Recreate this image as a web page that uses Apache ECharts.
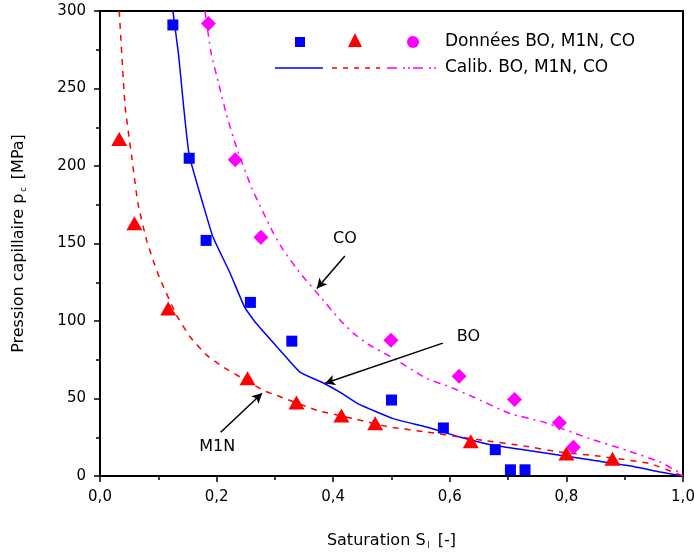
<!DOCTYPE html>
<html>
<head>
<meta charset="utf-8">
<script src="https://cdn.jsdelivr.net/npm/echarts@6/dist/echarts.min.js"></script>
<style>html,body{margin:0;padding:0;background:#fff;}#c{width:694px;height:556px;}</style>
</head>
<body>
<div id="c"></div>
<script>
// ---- Data ----
const xTicks = [0, 0.2, 0.4, 0.6, 0.8, 1.0];
const yTicks = [0, 50, 100, 150, 200, 250, 300];

// Measured points
const boX  = [0.125, 0.153, 0.182, 0.258, 0.329, 0.500, 0.589, 0.678, 0.704, 0.729];
const boY  = [291, 205, 152, 112, 87, 49, 31, 17, 4, 4];
const m1nX = [0.033, 0.059, 0.117, 0.253, 0.337, 0.414, 0.472, 0.636, 0.800, 0.879];
const m1nY = [217.5, 163, 108, 63, 47.5, 39, 34, 22.4, 14.5, 11.2];
const coX  = [0.186, 0.232, 0.276, 0.499, 0.616, 0.711, 0.788, 0.812];
const coY  = [292, 204, 154, 87.6, 64.4, 49.3, 34.3, 18.5];

// Calibrated curves
const boFitX  = [0.125, 0.135, 0.143, 0.153, 0.177, 0.194, 0.223, 0.248, 0.269, 0.309, 0.343, 0.383, 0.412, 0.443, 0.503, 0.560, 0.617, 0.675, 0.732, 0.789, 0.846, 0.903, 0.961, 1.0];
const boFitY  = [300, 271, 240, 207, 175, 154, 131, 109, 98, 81, 67, 60, 54, 46.5, 37, 31.6, 25.2, 19.8, 16.6, 13.4, 10.1, 6.9, 2.6, 0];
const m1nFitX = [0.033, 0.043, 0.054, 0.065, 0.080, 0.094, 0.103, 0.131, 0.154, 0.183, 0.211, 0.280, 0.303, 0.372, 0.435, 0.497, 0.560, 0.657, 0.720, 0.789, 0.858, 0.943, 0.990, 1.0];
const m1nFitY = [300, 239, 207, 176, 152, 136, 127, 104, 90, 78, 70.4, 55.3, 52, 42.4, 37, 31.6, 28.4, 23, 19.8, 15.5, 12.7, 8.0, 1.5, 0];
const coFitX  = [0.180, 0.191, 0.203, 0.217, 0.235, 0.260, 0.280, 0.297, 0.314, 0.343, 0.377, 0.412, 0.435, 0.460, 0.503, 0.560, 0.600, 0.640, 0.703, 0.760, 0.840, 0.903, 0.961, 0.995, 1.0];
const coFitY  = [300, 272, 254, 233, 211, 186, 170, 157, 146, 131, 116, 100.5, 92, 85, 76, 63, 57.5, 51, 40.3, 34.9, 24.1, 16.6, 9.0, 1.9, 0];

// Annotations (data coordinates)
const annoNames = ['CO', 'BO', 'M1N'];
const annoTextX = [0.420, 0.632, 0.201];
const annoTextY = [153, 89.5, 18.5];
const arrowFromX = [0.420, 0.588, 0.207];
const arrowFromY = [142, 85.7, 28.2];
const arrowToX   = [0.372, 0.386, 0.278];
const arrowToY   = [121, 59.8, 53.4];

const zip = (a, b) => a.map((v, i) => [v, b[i]]);
const FONT = 'DejaVu Sans';
const BLUE = '#0000ff', RED = '#ff0000', MAG = '#ff00ff';

const chart = echarts.init(document.getElementById('c'), null, {renderer: 'canvas'});
chart.setOption({
  backgroundColor: '#fff',
  animation: false,
  grid: {left: 100, top: 11, right: 11, bottom: 80, outerBoundsMode: 'none', containLabel: false,
    show: true, borderColor: '#000', borderWidth: 2, backgroundColor: '#fff'},
  xAxis: {
    type: 'value', min: xTicks[0], max: xTicks[xTicks.length - 1], interval: 0.2,
    axisLine: {onZero: false, lineStyle: {color: '#000', width: 2}},
    axisTick: {length: 6, lineStyle: {color: '#000', width: 1.5}},
    minorTick: {show: true, splitNumber: 2, length: 4, lineStyle: {color: '#000', width: 1.5}},
    splitLine: {show: false},
    axisLabel: {margin: 14, color: '#000', fontFamily: FONT, fontSize: 15, hideOverlap: false,
      formatter: v => v.toFixed(1).replace('.', ',')},
    name: 'Saturation S{sub|l} [-]', nameLocation: 'middle', nameGap: 56,
    nameTextStyle: {color: '#000', fontFamily: FONT, fontSize: 16,
      rich: {sub: {fontSize: 8, fontFamily: FONT, color: '#000', verticalAlign: 'bottom', padding: [10, 3, 0, 2]}}}
  },
  yAxis: {
    type: 'value', min: yTicks[0], max: yTicks[yTicks.length - 1], interval: 50,
    axisLine: {onZero: false, lineStyle: {color: '#000', width: 2}},
    axisTick: {length: 6, lineStyle: {color: '#000', width: 1.5}},
    minorTick: {show: true, splitNumber: 2, length: 4, lineStyle: {color: '#000', width: 1.5}},
    splitLine: {show: false},
    axisLabel: {margin: 14, color: '#000', fontFamily: FONT, fontSize: 15},
    name: 'Pression capillaire p{sub|c} [MPa]', nameLocation: 'middle', nameGap: 72,
    nameTextStyle: {color: '#000', fontFamily: FONT, fontSize: 16,
      rich: {sub: {fontSize: 8, fontFamily: FONT, color: '#000', verticalAlign: 'bottom', padding: [10, 3, 0, 2]}}}
  },
  series: [
    {type: 'line', data: zip(boFitX, boFitY), showSymbol: false, smooth: 0.15, lineStyle: {color: BLUE, width: 1.5}, z: 3},
    {type: 'line', data: zip(m1nFitX, m1nFitY), showSymbol: false, smooth: 0.15, lineStyle: {color: RED, width: 1.5, type: [6, 6]}, z: 3},
    {type: 'line', data: zip(coFitX, coFitY), showSymbol: false, smooth: 0.15, lineStyle: {color: MAG, width: 1.5, type: [7, 5, 2, 5]}, z: 3},
    {type: 'scatter', data: zip(boX, boY), symbol: 'rect', symbolSize: 11, itemStyle: {color: BLUE, opacity: 1}, z: 4},
    {type: 'scatter', data: zip(m1nX, m1nY), symbol: 'triangle', symbolSize: [16, 14], itemStyle: {color: RED, opacity: 1}, z: 4},
    {type: 'scatter', data: zip(coX, coY), symbol: 'diamond', symbolSize: 15, itemStyle: {color: MAG, opacity: 1}, z: 4},
    {type: 'scatter', symbolSize: 0, z: 5, itemStyle: {opacity: 1},
      data: annoNames.map((n, i) => ({name: n, value: [annoTextX[i], annoTextY[i]]})),
      label: {show: true, position: 'inside', formatter: '{b}', color: '#000', fontFamily: FONT, fontSize: 16},
      markLine: {silent: true, symbol: ['none', 'arrow'], symbolSize: [8, 10],
        lineStyle: {color: '#000', width: 1.5, type: 'solid', opacity: 1}, label: {show: false},
        data: annoNames.map((n, i) => [{coord: [arrowFromX[i], arrowFromY[i]]}, {coord: [arrowToX[i], arrowToY[i]]}])}
    }
  ],
  graphic: [
    {type: 'rect', shape: {x: 295, y: 37, width: 10, height: 10}, style: {fill: BLUE}},
    {type: 'polygon', shape: {points: [[355, 33], [348, 47], [362, 47]]}, style: {fill: RED}},
    {type: 'circle', shape: {cx: 413, cy: 42, r: 6}, style: {fill: MAG}},
    {type: 'text', left: 445, top: 33, style: {text: 'Données BO, M1N, CO', font: '17px "DejaVu Sans"', fill: '#000'}},
    {type: 'line', shape: {x1: 275, y1: 68, x2: 323, y2: 68}, style: {stroke: BLUE, lineWidth: 1.5}},
    {type: 'line', shape: {x1: 332, y1: 68, x2: 380, y2: 68}, style: {stroke: RED, lineWidth: 1.5, lineDash: [5, 6]}},
    {type: 'line', shape: {x1: 387, y1: 68, x2: 437, y2: 68}, style: {stroke: MAG, lineWidth: 1.5, lineDash: [10, 6, 2, 3, 2, 3]}},
    {type: 'text', left: 445, top: 59, style: {text: 'Calib. BO, M1N, CO', font: '17px "DejaVu Sans"', fill: '#000'}}
  ]
});
</script>
</body>
</html>
